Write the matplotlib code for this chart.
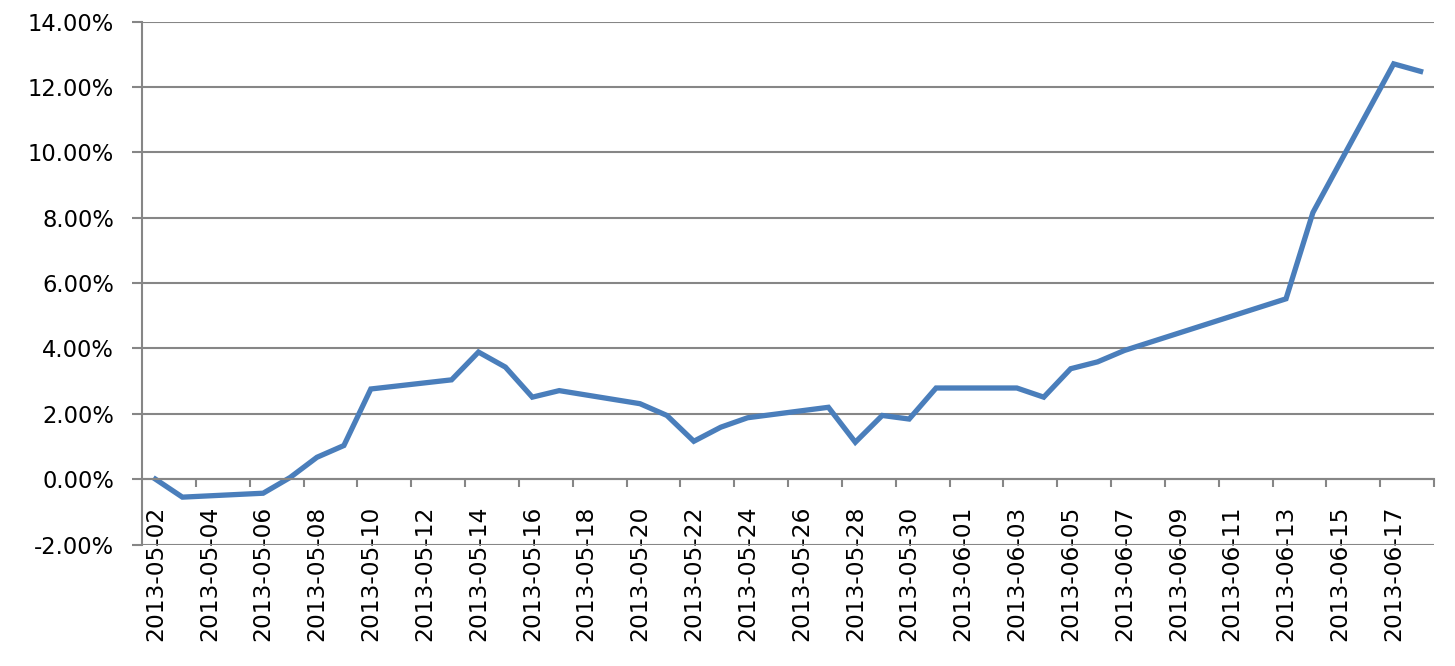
import numpy as np
import pandas as pd
import matplotlib
matplotlib.use("Agg")
import matplotlib.pyplot as plt
from matplotlib.ticker import FixedLocator, FuncFormatter

# trading days and cumulative return (%)
dates = ["2013-05-02", "2013-05-03", "2013-05-06", "2013-05-07", "2013-05-08",
         "2013-05-09", "2013-05-10", "2013-05-13", "2013-05-14", "2013-05-15",
         "2013-05-16", "2013-05-17", "2013-05-20", "2013-05-21", "2013-05-22",
         "2013-05-23", "2013-05-24", "2013-05-27", "2013-05-28", "2013-05-29",
         "2013-05-30", "2013-05-31", "2013-06-03", "2013-06-04", "2013-06-05",
         "2013-06-06", "2013-06-07", "2013-06-13", "2013-06-14", "2013-06-17",
         "2013-06-18"]
returns = [0.00, -0.55, -0.43, 0.05, 0.67,
           1.03, 2.76, 3.04, 3.89, 3.43,
           2.51, 2.71, 2.31, 1.95, 1.16,
           1.59, 1.88, 2.20, 1.13, 1.95,
           1.84, 2.79, 2.79, 2.51, 3.38,
           3.59, 3.94, 5.52, 8.16, 12.71,
           12.48]

start = pd.Timestamp("2013-05-02")
end = pd.Timestamp("2013-06-18")
all_days = pd.date_range(start, end, freq="D")
label_days = all_days[::2]
y_ticks = np.arange(-2, 15, 2)

grey = "#868686"
blue = "#4A7EBB"

plt.rcParams['font.family'] = ['DejaVu Sans']

fig = plt.figure(figsize=(14.55, 6.66), dpi=100)
ax = fig.add_axes([0.0976, 0.1824, 0.888, 0.785])

x = (pd.to_datetime(dates) - start).days
ax.plot(x, returns, color=blue, linewidth=3.8, solid_joinstyle="miter")

ax.set_xlim(-0.5, len(all_days) - 0.5)
ax.set_ylim(-2, 14)

# y axis
ax.set_yticks(y_ticks)
ax.yaxis.set_major_formatter(FuncFormatter(lambda v, p: "%.2f%%" % v))
ax.grid(axis="y", color=grey, linewidth=1.5)
ax.set_axisbelow(True)
ax.tick_params(axis="y", length=7.2, width=1.5, color=grey, pad=13,
               labelsize=16.3)

# x axis crosses at 0
ax.spines["bottom"].set_position(("data", 0))
ax.spines["bottom"].set_color(grey)
ax.spines["bottom"].set_linewidth(1.5)
ax.spines["left"].set_color(grey)
ax.spines["left"].set_linewidth(1.5)
ax.spines["top"].set_visible(False)
ax.spines["right"].set_visible(False)

ax.xaxis.set_major_locator(FixedLocator((label_days - start).days))
ax.set_xticklabels([d.strftime("%Y-%m-%d") for d in label_days],
                   rotation=90, fontsize=16.8)
ax.xaxis.set_minor_locator(FixedLocator(np.arange(1.5, len(all_days), 2)))
ax.tick_params(axis="x", which="major", length=0, pad=19)
ax.tick_params(axis="x", which="minor", length=5.8, width=1.5, color=grey)

fig.savefig("out.png", dpi=100)
